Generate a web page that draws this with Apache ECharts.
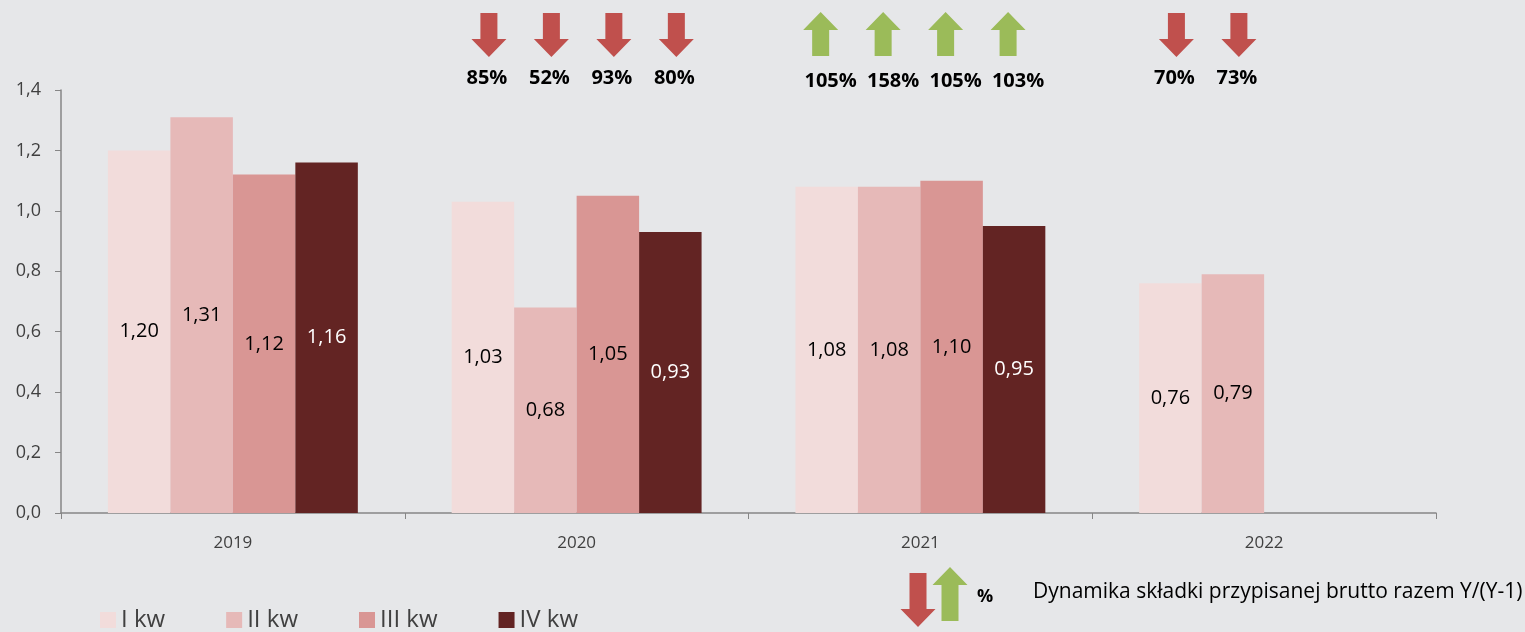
<!DOCTYPE html>
<html>
<head>
<meta charset="utf-8">
<script src="https://cdn.jsdelivr.net/npm/echarts@6/dist/echarts.min.js"></script>
<style>
html,body{margin:0;padding:0;background:#E6E7E9;}
#chart{width:1525px;height:632px;}
</style>
</head>
<body>
<div id="chart"></div>
<script>
// ---- data ----
const years = ['2019', '2020', '2021', '2022'];
const quarters = ['I kw', 'II kw', 'III kw', 'IV kw'];
const qI   = [1.20, 1.03, 1.08, 0.76];
const qII  = [1.31, 0.68, 1.08, 0.79];
const qIII = [1.12, 1.05, 1.10, null];
const qIV  = [1.16, 0.93, 0.95, null];
// dynamics Y/(Y-1) in %
const dynI   = [null, 85, 105, 70];
const dynII  = [null, 52, 158, 73];
const dynIII = [null, 93, 105, null];
const dynIV  = [null, 80, 103, null];
const yTicks = [0, 0.2, 0.4, 0.6, 0.8, 1.0, 1.2, 1.4];
const dynLegendText = 'Dynamika składki przypisanej brutto razem Y/(Y-1)';

const barValues = [qI, qII, qIII, qIV];
const dynValues = [dynI, dynII, dynIII, dynIV];
const colors = ['#F2DCDB', '#E6B9B8', '#D99694', '#632423'];
const labelColors = ['#000000', '#000000', '#000000', '#FFFFFF'];
const RED = '#C0504D', GREEN = '#9BBB59';
const GAP = 0.273;
const FONT = '"Open Sans", "Liberation Sans", sans-serif';

function fmt(v, d) { return v.toFixed(d).replace('.', ','); }

function arrowPoints(cx, top, up, H) {
  H = H || 44;
  const hw = 17.5, sw = 8.5, hh = 18;
  if (up) {
    return [[cx, top], [cx + hw, top + hh], [cx + sw, top + hh], [cx + sw, top + H],
            [cx - sw, top + H], [cx - sw, top + hh], [cx - hw, top + hh]];
  }
  return [[cx - sw, top], [cx + sw, top], [cx + sw, top + H - hh], [cx + hw, top + H - hh],
          [cx, top + H], [cx - hw, top + H - hh], [cx - sw, top + H - hh]];
}

const series = [];
quarters.forEach((q, i) => {
  series.push({
    name: q,
    type: 'bar',
    data: barValues[i],
    itemStyle: { color: colors[i] },
    barGap: '0%',
    barCategoryGap: (GAP * 100) + '%',
    label: {
      show: true, position: 'inside', color: labelColors[i],
      fontFamily: FONT, fontSize: 20,
      formatter: p => fmt(p.value, 2)
    }
  });
});
quarters.forEach((q, i) => {
  const data = [];
  dynValues[i].forEach((v, k) => { if (v != null) data.push([k, v]); });
  series.push({
    name: 'dyn ' + q,
    type: 'custom',
    data: data,
    encode: { x: 0 },
    clip: false,
    silent: true,
    z: 10,
    renderItem: function (params, api) {
      const cat = api.value(0), v = api.value(1);
      const cx0 = api.coord([cat, 0])[0];
      const w = api.size([1, 0])[0];
      const bw = w * (1 - GAP);
      const x = cx0 - bw / 2 + (i + 0.5) * bw / 4;
      const up = v >= 100;
      return {
        type: 'group',
        children: [
          { type: 'polygon', shape: { points: arrowPoints(x + (up ? -6 : 6), up ? 12 : 13, up) },
            style: { fill: up ? GREEN : RED } },
          { type: 'text', style: { text: v + '%', x: x + 4, y: up ? 81 : 78,
            fill: '#000', font: 'bold 20px ' + FONT, align: 'center', verticalAlign: 'middle' } }
        ]
      };
    }
  });
});

const chart = echarts.init(document.getElementById('chart'), null, { renderer: 'canvas' });
chart.setOption({
  backgroundColor: '#E6E7E9',
  animation: false,
  grid: { left: 61, right: 89, top: 90, bottom: 119 },
  legend: {
    data: quarters,
    left: 100, top: 608,
    padding: 0,
    itemWidth: 16, itemHeight: 16, itemGap: 61,
    icon: 'rect',
    textStyle: { fontFamily: FONT, fontSize: 24, color: '#404040', padding: [0, 0, 0, 0] }
  },
  xAxis: {
    type: 'category',
    data: years,
    axisLine: { lineStyle: { color: '#868686', width: 1.5 } },
    axisTick: { show: true, length: 6, lineStyle: { color: '#868686' } },
    axisLabel: { color: '#404040', fontFamily: FONT, fontSize: 17, margin: 22 }
  },
  yAxis: {
    type: 'value',
    min: yTicks[0], max: yTicks[yTicks.length - 1], interval: 0.2,
    axisLine: { show: true, lineStyle: { color: '#868686', width: 1.5 } },
    axisTick: { show: true, length: 6, lineStyle: { color: '#868686' } },
    splitLine: { show: false },
    axisLabel: { color: '#404040', fontFamily: FONT, fontSize: 18, margin: 20,
      formatter: v => fmt(v, 1) }
  },
  series: series,
  graphic: [
    { type: 'polygon', shape: { points: arrowPoints(918, 573, false, 54) }, style: { fill: RED } },
    { type: 'polygon', shape: { points: arrowPoints(950, 567, true, 54) }, style: { fill: GREEN } },
    { type: 'text', left: 977, top: 588, style: { text: '%', font: 'bold 18px ' + FONT, fill: '#000' } },
    { type: 'text', left: 1033, top: 582, style: { text: dynLegendText, font: '21px ' + FONT, fill: '#000' } }
  ]
});
</script>
</body>
</html>
